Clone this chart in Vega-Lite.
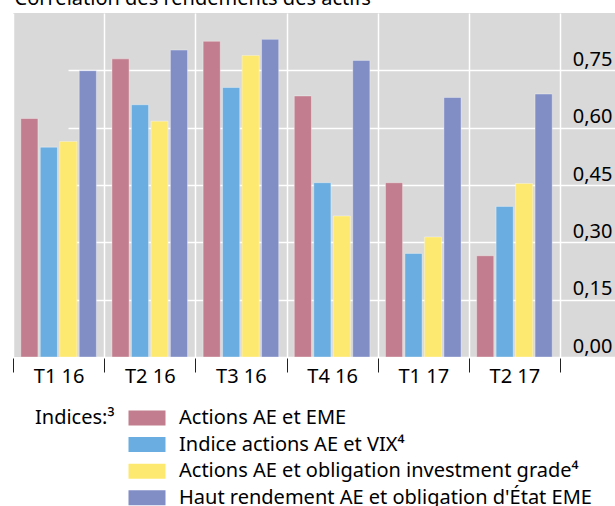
{
  "$schema": "https://vega.github.io/schema/vega-lite/v6.json",
  "autosize": {"type": "none"},
  "width": 602,
  "height": 344,
  "padding": {"left": 13, "top": 13, "right": 0, "bottom": 149},
  "background": "white",
  "title": {"text": "Corrélation des rendements des actifs", "anchor": "start", "baseline": "alphabetic", "offset": 0, "dy": 12, "fontSize": 20, "font": "Noto Sans", "fontWeight": "normal", "color": "#000000", "dx": 2},
  "data": {"values": [
    {"q": "T1 16", "s": "Actions AE et EME", "v": 0.624},
    {"q": "T1 16", "s": "Indice actions AE et VIX⁴", "v": 0.549},
    {"q": "T1 16", "s": "Actions AE et obligation investment grade⁴", "v": 0.564},
    {"q": "T1 16", "s": "Haut rendement AE et obligation d'État EME", "v": 0.749},
    {"q": "T2 16", "s": "Actions AE et EME", "v": 0.780},
    {"q": "T2 16", "s": "Indice actions AE et VIX⁴", "v": 0.660},
    {"q": "T2 16", "s": "Actions AE et obligation investment grade⁴", "v": 0.617},
    {"q": "T2 16", "s": "Haut rendement AE et obligation d'État EME", "v": 0.803},
    {"q": "T3 16", "s": "Actions AE et EME", "v": 0.826},
    {"q": "T3 16", "s": "Indice actions AE et VIX⁴", "v": 0.705},
    {"q": "T3 16", "s": "Actions AE et obligation investment grade⁴", "v": 0.789},
    {"q": "T3 16", "s": "Haut rendement AE et obligation d'État EME", "v": 0.831},
    {"q": "T4 16", "s": "Actions AE et EME", "v": 0.683},
    {"q": "T4 16", "s": "Indice actions AE et VIX⁴", "v": 0.456},
    {"q": "T4 16", "s": "Actions AE et obligation investment grade⁴", "v": 0.369},
    {"q": "T4 16", "s": "Haut rendement AE et obligation d'État EME", "v": 0.776},
    {"q": "T1 17", "s": "Actions AE et EME", "v": 0.456},
    {"q": "T1 17", "s": "Indice actions AE et VIX⁴", "v": 0.271},
    {"q": "T1 17", "s": "Actions AE et obligation investment grade⁴", "v": 0.314},
    {"q": "T1 17", "s": "Haut rendement AE et obligation d'État EME", "v": 0.679},
    {"q": "T2 17", "s": "Actions AE et EME", "v": 0.265},
    {"q": "T2 17", "s": "Indice actions AE et VIX⁴", "v": 0.394},
    {"q": "T2 17", "s": "Actions AE et obligation investment grade⁴", "v": 0.454},
    {"q": "T2 17", "s": "Haut rendement AE et obligation d'État EME", "v": 0.688}
  ]},
  "mark": {"type": "bar", "stroke": "white", "strokeOpacity": 0.35, "strokeWidth": 1},
  "encoding": {
    "x": {
      "field": "q", "type": "nominal",
      "sort": ["T1 16", "T2 16", "T3 16", "T4 16", "T1 17", "T2 17"],
      "scale": {"range": [0, 547], "paddingInner": 0, "paddingOuter": 0},
      "axis": {
        "title": null, "orient": "bottom", "tickBand": "extent", "domain": false,
        "ticks": true, "tickColor": "#222222", "tickSize": 14, "tickWidth": 1, "offset": 1,
        "labelFontSize": 20, "labelFont": "Noto Sans", "labelColor": "#000000", "labelAngle": 0,
        "labelBaseline": "alphabetic", "labelPadding": 10,
        "grid": true, "gridColor": "white", "gridWidth": 1.5
      }
    },
    "xOffset": {
      "field": "s", "type": "nominal",
      "sort": ["Actions AE et EME", "Indice actions AE et VIX⁴", "Actions AE et obligation investment grade⁴", "Haut rendement AE et obligation d'État EME"],
      "scale": {"paddingInner": 0.12, "paddingOuter": 0.4}
    },
    "y": {
      "field": "v", "type": "quantitative",
      "scale": {"domain": [0, 0.9], "nice": false},
      "axis": {
        "title": null, "orient": "right", "values": [0, 0.15, 0.3, 0.45, 0.6, 0.75],
        "labelExpr": "replace(format(datum.value, '.2f'), '.', ',')",
        "domain": false, "ticks": false, "tickSize": 0,
        "labelAlign": "right", "labelPadding": -3, "labelBaseline": "alphabetic", "labelOffset": -5,
        "labelFontSize": 20, "labelFont": "Noto Sans", "labelColor": "#000000",
        "grid": true, "gridColor": "white", "gridWidth": 1.5
      }
    },
    "color": {
      "field": "s", "type": "nominal",
      "scale": {
        "domain": ["Actions AE et EME", "Indice actions AE et VIX⁴", "Actions AE et obligation investment grade⁴", "Haut rendement AE et obligation d'État EME"],
        "range": ["#c27e8e", "#6aade0", "#fee970", "#818ec6"]
      },
      "legend": {
        "orient": "none", "legendX": 22, "legendY": 395, "direction": "vertical",
        "title": "Indices:³", "titleOrient": "left", "titleAnchor": "start", "titleBaseline": "top",
        "titleFontSize": 20, "titleFont": "Noto Sans",
        "titleFontWeight": "normal", "titleColor": "#000000", "titlePadding": 22,
        "labelFontSize": 20, "labelFont": "Noto Sans", "labelColor": "#000000", "labelLimit": 600,
        "symbolType": "M-2.4667,-1L2.4667,-1L2.4667,1L-2.4667,1Z", "symbolSize": 225,
        "symbolStrokeWidth": 0, "symbolOpacity": 1, "labelOffset": 22, "rowPadding": 6.6
      }
    }
  },
  "config": {
    "view": {"fill": "#d9d9d9", "stroke": null}
  }
}
